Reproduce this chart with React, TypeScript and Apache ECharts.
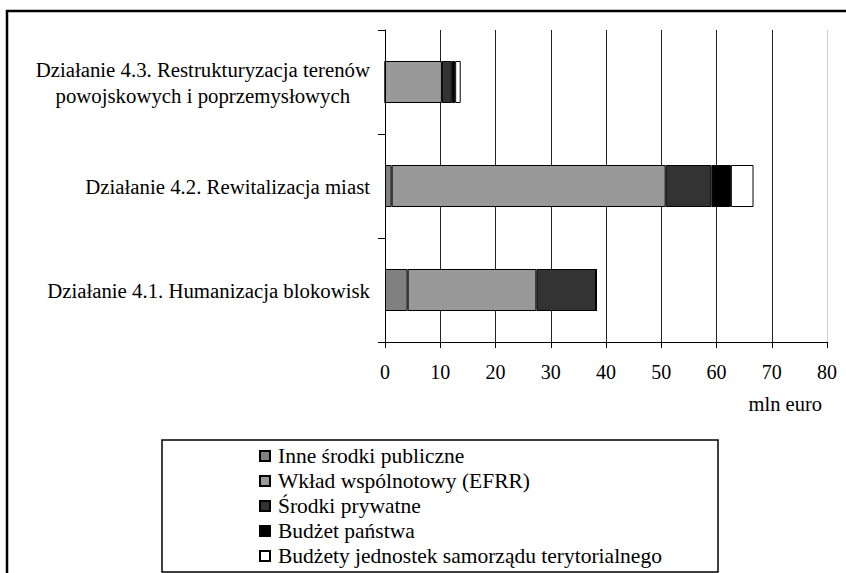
import React, { useEffect, useRef } from "react";
import * as echarts from "echarts";

const categories = [
  "Działanie 4.1. Humanizacja blokowisk",
  "Działanie 4.2. Rewitalizacja miast",
  "Działanie 4.3. Restrukturyzacja terenów\npowojskowych i poprzemysłowych",
];
const seriesNames = [
  "Inne środki publiczne",
  "Wkład wspólnotowy (EFRR)",
  "Środki prywatne",
  "Budżet państwa",
  "Budżety jednostek samorządu terytorialnego",
];
const inne = [4.1, 1.2, 0];
const wklad = [23.3, 49.6, 10.3];
const prywatne = [10.8, 8.3, 1.8];
const budzet = [0, 3.5, 0.6];
const jst = [0, 4.1, 1.0];
const xTicks = [0, 10, 20, 30, 40, 50, 60, 70, 80];
const unitLabel = "mln euro";

const colors = ["#808080", "#999999", "#333333", "#000000", "#ffffff"];
const FONT = "Liberation Serif";

export default function App() {
  const ref = useRef<HTMLDivElement>(null);
  useEffect(() => {
    if (!ref.current) return;
    const chart = echarts.init(ref.current, null, { renderer: "svg" });
    const values = [inne, wklad, prywatne, budzet, jst];
    const gridColors = xTicks.map((t, i) => (i === xTicks.length - 1 ? "#d0d0d0" : "#222"));
    chart.setOption({
      animation: false,
      backgroundColor: "#fff",
      textStyle: { fontFamily: FONT },
      grid: { left: 385, right: 19, top: 30, bottom: 231, containLabel: false },
      xAxis: {
        type: "value",
        min: xTicks[0],
        max: xTicks[xTicks.length - 1],
        interval: 10,
        axisLine: { show: true, lineStyle: { color: "#000", width: 1 } },
        axisTick: { show: true, length: 6, lineStyle: { color: "#000" } },
        axisLabel: { color: "#000", fontSize: 20, fontFamily: FONT, margin: 20 },
        splitLine: { show: true, lineStyle: { color: gridColors, width: 1 } },
      },
      yAxis: {
        type: "category",
        data: categories,
        axisLine: { show: true, lineStyle: { color: "#000", width: 1 } },
        axisTick: { show: true, length: 7, lineStyle: { color: "#000" } },
        axisLabel: {
          color: "#000",
          fontSize: 20.8,
          fontFamily: FONT,
          margin: 15,
          lineHeight: 26,
          formatter: (v: string) => v.split("\n").map((l) => `{c|${l}}`).join("\n"),
          rich: { c: { align: "center", fontSize: 20.8, fontFamily: FONT, lineHeight: 26, color: "#000" } },
        },
      },
      legend: {
        orient: "vertical",
        left: 259,
        top: 445,
        padding: 0,
        itemGap: 3,
        itemWidth: 10,
        itemHeight: 10,
        icon: "rect",
        data: seriesNames,
        textStyle: { color: "#000", fontSize: 21.5, fontFamily: FONT, lineHeight: 21.5, padding: [0, 0, 0, 3] },
      },
      graphic: [
        { type: "rect", silent: true, z: -1, shape: { x: 7, y: 11, width: 900, height: 700 }, style: { fill: "none", stroke: "#000", lineWidth: 2.5 } },
        { type: "rect", silent: true, z: -1, shape: { x: 162, y: 440, width: 556, height: 132 }, style: { fill: "none", stroke: "#000", lineWidth: 1.5 } },
        { type: "text", silent: true, style: { x: 822, y: 404, text: unitLabel, align: "right", verticalAlign: "middle", fontSize: 20.5, fontFamily: FONT, fill: "#000" } },
      ],
      series: seriesNames.map((name, i) => ({
        name,
        type: "bar",
        stack: "total",
        barWidth: 42,
        data: values[i],
        itemStyle: { color: colors[i], borderColor: "#000", borderWidth: 1 },
      })),
    });
    return () => chart.dispose();
  }, []);
  return <div ref={ref} style={{ position: "fixed", left: 0, top: 0, width: 846, height: 573 }} />;
}
